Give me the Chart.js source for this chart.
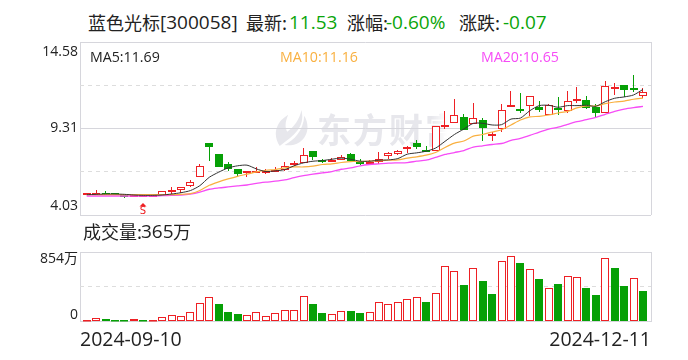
<!DOCTYPE html>
<html>
<head>
<meta charset="utf-8">
<title>蓝色光标</title>
<script src="https://cdn.jsdelivr.net/npm/chart.js@4"></script>
<style>
html, body { margin: 0; padding: 0; background: #fff; }
#page { position: relative; width: 688px; height: 360px; overflow: hidden; font-family: "Open Sans", "Noto Sans CJK SC", sans-serif; color: #222; }
#page span { position: absolute; white-space: nowrap; line-height: 20px; }
canvas { position: absolute; left: 0; }
.cn { font-family: "Noto Sans CJK SC", sans-serif; font-size: 18px; }
.big { font-size: 19px; }
.green { color: #0aa50a; }
.ma { font-size: 14.2px; }
#watermark { left: 317px; top: 104px; width: 130px; height: 50px; line-height: 50px !important; overflow: hidden; font-family: "Noto Sans CJK SC", sans-serif; font-weight: 700; font-size: 34px; letter-spacing: 2px; color: #e7e7ec; -webkit-mask-image: linear-gradient(to right, #000 88%, transparent); }
#logo { position: absolute; left: 275px; top: 110px; }
</style>
</head>
<body>
<div id="page">
    <svg id="logo" width="34" height="36" viewBox="0 0 36 38"><path d="M28 0 C31 12 26 20 20 26 C15 31 10 34 5 38 C1 32 -1 24 3 16 C6 10 10 8 14 5 C11 12 10 18 13 23 C20 18 26 10 28 0 Z M31 6 C37 16 35 28 26 34 C21 37 15 38 10 37 C20 32 30 22 31 6 Z" fill="#e7e7ec"/></svg>
    <span id="watermark">东方财富</span>

    <span class="cn" style="left:88px;top:12px">蓝色光标</span>
    <span class="big" style="left:160px;top:12px">[300058]</span>
    <span class="cn" style="left:246px;top:12px">最新:</span>
    <span class="big green" style="left:289px;top:12px">11.53</span>
    <span class="cn" style="left:347px;top:12px">涨幅:</span>
    <span class="big green" style="left:386px;top:12px">-0.60%</span>
    <span class="cn" style="left:459px;top:12px">涨跌:</span>
    <span class="big green" style="left:503px;top:12px">-0.07</span>

    <canvas id="priceChart" width="688" height="225" style="top:0"></canvas>
    <canvas id="volumeChart" width="688" height="120" style="top:240px"></canvas>

    <span class="ma" style="left:90px;top:47px;color:#222">MA5:11.69</span>
    <span class="ma" style="left:280px;top:47px;color:#f9b040">MA10:11.16</span>
    <span class="ma" style="left:481px;top:47px;color:#f64cf6">MA20:10.65</span>

    <span class="cn" style="left:83px;top:221px">成交量:</span>
    <span class="big" style="left:141px;top:221px">365</span>
    <span class="cn" style="left:173px;top:221px">万</span>
</div>

<script>
const dates = ['2024-09-10', '2024-12-11'];
const priceTicks = [14.58, 9.31, 4.03];
const priceGrid = [14.58, 11.94, 9.31, 6.67, 4.03];
const volumeTicks = [854, 0];
const volumeGrid = [854, 427, 0];

const opens = [5.31, 5.31, 5.35, 5.35, 5.25, 5.23, 5.23, 5.23, 5.25, 5.50, 5.58, 5.82, 6.37, 8.41, 7.76, 7.15, 6.82, 6.62, 6.66, 6.66,
    6.74, 6.80, 7.11, 7.19, 7.94, 7.39, 7.29, 7.37, 7.76, 7.29, 7.23, 7.27, 7.60, 7.72, 8.03, 8.43, 8.00, 7.94, 9.47, 9.64,
    10.01, 9.56, 9.82, 8.84, 9.27, 10.62, 10.52, 10.68, 10.64, 10.13, 10.54, 10.37, 10.96, 11.05, 10.64, 10.25, 11.76, 11.98, 11.80, 11.27];
const closes = [5.35, 5.35, 5.31, 5.31, 5.21, 5.27, 5.27, 5.27, 5.47, 5.54, 5.72, 6.03, 7.01, 8.15, 6.98, 6.86, 6.56, 6.70, 6.70, 6.70,
    6.78, 7.01, 7.21, 7.68, 7.58, 7.27, 7.39, 7.56, 7.35, 7.21, 7.29, 7.43, 7.80, 7.92, 8.15, 8.15, 7.92, 9.43, 9.52, 10.13,
    9.23, 9.94, 9.31, 8.96, 10.43, 10.74, 10.39, 11.29, 10.41, 10.74, 10.49, 10.98, 11.11, 10.54, 10.23, 11.90, 11.84, 11.64, 11.64, 11.53];
const highs = [5.39, 5.54, 5.47, 5.39, 5.29, 5.29, 5.29, 5.29, 5.47, 5.74, 5.72, 6.17, 7.13, 8.41, 7.76, 7.27, 6.82, 6.70, 6.96, 6.82,
    6.96, 7.27, 7.31, 8.13, 7.94, 7.47, 7.50, 7.70, 7.80, 7.45, 7.39, 7.88, 7.88, 7.98, 8.21, 8.62, 8.25, 9.43, 10.39, 11.11,
    10.21, 10.88, 9.94, 9.07, 10.82, 11.62, 11.50, 11.29, 11.01, 10.82, 11.25, 11.62, 11.86, 11.31, 10.82, 12.23, 12.11, 11.98, 12.54, 11.76];
const lows = [5.23, 5.27, 5.27, 5.29, 5.07, 5.21, 5.21, 5.23, 5.25, 5.31, 5.39, 5.76, 6.37, 7.35, 6.98, 6.72, 6.41, 6.37, 6.58, 6.54,
    6.66, 6.72, 7.03, 7.19, 7.39, 7.19, 7.25, 7.37, 7.29, 7.09, 7.07, 7.15, 7.43, 7.68, 7.84, 8.07, 7.88, 7.94, 9.29, 9.64,
    9.19, 9.56, 8.52, 8.52, 9.07, 10.62, 10.23, 10.09, 10.29, 10.13, 10.13, 10.23, 10.84, 10.47, 10.03, 10.25, 11.37, 11.23, 11.56, 11.19];

const ma5 = [5.27, 5.29, 5.31, 5.31, 5.29, 5.25, 5.23, 5.23, 5.25, 5.31, 5.39, 5.52, 5.82, 6.33, 6.64, 6.90, 7.03, 7.07, 6.84, 6.68,
    6.72, 6.80, 7.03, 7.21, 7.31, 7.35, 7.43, 7.50, 7.43, 7.31, 7.31, 7.37, 7.39, 7.47, 7.74, 7.82, 7.92, 8.11, 8.52, 8.94,
    9.27, 9.62, 9.62, 9.52, 9.54, 9.88, 9.94, 10.39, 10.70, 10.72, 10.60, 10.70, 10.70, 10.72, 10.66, 10.94, 11.15, 11.23, 11.35, 11.69];
const ma10 = [5.27, 5.27, 5.27, 5.27, 5.27, 5.27, 5.27, 5.27, 5.27, 5.27, 5.29, 5.33, 5.52, 5.84, 6.05, 6.23, 6.39, 6.52, 6.66, 6.76,
    6.80, 6.90, 6.96, 6.96, 7.01, 7.11, 7.15, 7.23, 7.29, 7.29, 7.31, 7.35, 7.37, 7.39, 7.50, 7.58, 7.68, 7.84, 8.15, 8.41,
    8.54, 8.84, 8.94, 9.09, 9.23, 9.52, 9.82, 10.01, 10.05, 10.13, 10.25, 10.35, 10.56, 10.68, 10.68, 10.82, 10.92, 10.98, 11.09, 11.16];
const ma20 = [5.19, 5.19, 5.19, 5.19, 5.19, 5.19, 5.19, 5.19, 5.21, 5.23, 5.25, 5.31, 5.43, 5.60, 5.68, 5.74, 5.80, 5.86, 5.96, 6.03,
    6.09, 6.17, 6.31, 6.43, 6.52, 6.60, 6.68, 6.82, 6.90, 7.03, 7.11, 7.15, 7.19, 7.21, 7.23, 7.31, 7.37, 7.54, 7.72, 7.84,
    7.96, 8.17, 8.25, 8.33, 8.39, 8.58, 8.70, 8.88, 9.09, 9.27, 9.39, 9.56, 9.72, 9.84, 9.98, 10.17, 10.35, 10.49, 10.58, 10.65];

// 万
const volumes = [20, 44, 36, 24, 24, 32, 24, 20, 56, 80, 68, 116, 224, 296, 216, 120, 96, 80, 116, 68,
    104, 140, 140, 308, 216, 108, 92, 128, 132, 108, 116, 236, 212, 236, 272, 296, 240, 356, 680, 620,
    444, 656, 504, 336, 740, 800, 720, 644, 528, 416, 456, 560, 548, 408, 324, 776, 660, 432, 536, 372];
// volume colour follows the day's change, not the candle: r = up, g = down
const volumeSides = ['r', 'r', 'g', 'g', 'g', 'r', 'g', 'r', 'r', 'r', 'r', 'r', 'r', 'r', 'g', 'g', 'g', 'r', 'r', 'r',
    'r', 'r', 'r', 'r', 'g', 'g', 'r', 'r', 'g', 'g', 'r', 'r', 'r', 'r', 'r', 'r', 'g', 'r', 'r', 'r',
    'g', 'r', 'g', 'g', 'r', 'r', 'g', 'r', 'g', 'r', 'g', 'r', 'r', 'g', 'g', 'r', 'g', 'g', 'r', 'g'];

const signalIndex = 6;
const signalLabel = 'S';

const RED = '#ee2024';
const GREEN = '#06a006';
const LINE_GREY = '#d6d6dc';
const DASH_GREY = '#dddddd';
const FONT_FAMILY = '"Open Sans", "Noto Sans CJK SC", sans-serif';
const X_MIN = -0.71;
const X_MAX = 59.85;

const isUp = opens.map((o, i) => closes[i] >= o);
const volUp = volumeSides.map(s => s === 'r');

function xAxis(extra) {
    return Object.assign({
        type: 'linear',
        offset: false,
        min: X_MIN,
        max: X_MAX,
        afterBuildTicks: scale => { scale.ticks = [{ value: X_MIN }, { value: X_MAX }]; },
        grid: { color: LINE_GREY, drawTicks: false, offset: false },
        border: { display: false },
        ticks: { display: false }
    }, extra);
}

function yAxis(min, max, gridValues) {
    return {
        min: min,
        max: max,
        afterBuildTicks: scale => { scale.ticks = gridValues.map(v => ({ value: v })); },
        grid: {
            drawTicks: false,
            color: ctx => ctx.index % 2 === 0 ? LINE_GREY : DASH_GREY
        },
        border: {
            display: false,
            dash: ctx => ctx.index % 2 === 0 ? [] : [4, 4]
        },
        ticks: { display: false }
    };
}

// first and last y label sit inside the panel, not on the grid line
function edgeLabels(values, formatter, topShift, bottomShift) {
    return {
        id: 'edgeLabels',
        afterDraw(chart) {
            const ctx = chart.ctx;
            const scale = chart.scales.y;
            ctx.save();
            ctx.font = '14px ' + FONT_FAMILY;
            ctx.fillStyle = '#222';
            ctx.textAlign = 'right';
            ctx.textBaseline = 'middle';
            values.forEach((v, i) => {
                let y = scale.getPixelForValue(v);
                if (i === 0) y += topShift;
                if (i === values.length - 1) y -= bottomShift;
                ctx.fillText(formatter(v), 78, y);
            });
            ctx.restore();
        }
    };
}

// keep the bars on whole pixels, otherwise the 1px borders go pale
const snapBars = {
    id: 'snapBars',
    beforeDatasetsDraw(chart) {
        chart.data.datasets.forEach((ds, d) => {
            if (ds.type !== 'bar') return;
            chart.getDatasetMeta(d).data.forEach(bar => {
                bar.x = ds.barThickness % 2 ? Math.floor(bar.x) + 0.5 : Math.round(bar.x);
                bar.y = Math.round(bar.y);
                bar.base = Math.round(bar.base);
                if (Math.abs(bar.base - bar.y) < 2) bar.base = bar.y + 2;
            });
        });
    }
};

const signalMark = {
    id: 'signalMark',
    afterDraw(chart) {
        const ctx = chart.ctx;
        const x = Math.round(chart.scales.x.getPixelForValue(signalIndex));
        ctx.save();
        ctx.fillStyle = RED;
        ctx.beginPath();
        ctx.moveTo(x, 203);
        ctx.lineTo(x + 3.5, 206.5);
        ctx.lineTo(x - 3.5, 206.5);
        ctx.closePath();
        ctx.fill();
        ctx.font = '10px "DejaVu Sans", sans-serif';
        ctx.textAlign = 'center';
        ctx.textBaseline = 'middle';
        ctx.fillText(signalLabel, x, 211.5);
        ctx.restore();
    }
};

function maLine(values, color, width, order) {
    return {
        type: 'line',
        data: values.map((v, i) => ({ x: i, y: v })),
        borderColor: color,
        borderWidth: width,
        pointRadius: 0,
        tension: 0.25,
        order: order
    };
}

new Chart(document.getElementById('priceChart').getContext('2d'), {
    data: {
        datasets: [
            maLine(ma5, '#333333', 1, 0),
            maLine(ma10, '#f9b040', 1.2, 1),
            maLine(ma20, '#f64cf6', 1.3, 2),
            {
                type: 'bar',
                data: opens.map((o, i) => ({ x: i, y: [o, closes[i]] })),
                backgroundColor: isUp.map(up => up ? '#ffffff' : GREEN),
                borderColor: isUp.map(up => up ? RED : GREEN),
                borderWidth: isUp.map(up => up ? 1 : 0),
                borderSkipped: false,
                inflateAmount: 0,
                barThickness: 8,
                grouped: false,
                order: 3
            },
            {
                type: 'bar',
                data: lows.map((l, i) => ({ x: i, y: [l, highs[i]] })),
                backgroundColor: isUp.map(up => up ? RED : GREEN),
                inflateAmount: 0,
                barThickness: 1,
                grouped: false,
                order: 4
            }
        ]
    },
    options: {
        responsive: false,
        animation: false,
        layout: { padding: { left: 80, right: 37, top: 42, bottom: 10 } },
        plugins: { legend: { display: false }, tooltip: { enabled: false } },
        scales: {
            x: xAxis(),
            y: yAxis(priceTicks[2], priceTicks[0], priceGrid)
        }
    },
    plugins: [snapBars, edgeLabels(priceTicks, v => v.toFixed(2), 10.5, 9), signalMark]
});

new Chart(document.getElementById('volumeChart').getContext('2d'), {
    data: {
        datasets: [{
            type: 'bar',
            data: volumes.map((v, i) => ({ x: i, y: v })),
            backgroundColor: volUp.map(up => up ? '#ffffff' : GREEN),
            borderColor: volUp.map(up => up ? RED : GREEN),
            borderWidth: volUp.map(up => up ? 1 : 0),
            borderSkipped: false,
            inflateAmount: 0,
            barThickness: 8
        }]
    },
    options: {
        responsive: false,
        animation: false,
        layout: { padding: { left: 80, right: 37, top: 12, bottom: 1 } },
        plugins: { legend: { display: false }, tooltip: { enabled: false } },
        scales: {
            x: xAxis({
                ticks: {
                    display: true,
                    align: 'inner',
                    autoSkip: false,
                    maxRotation: 0,
                    padding: 7,
                    color: '#222',
                    font: { family: FONT_FAMILY, size: 19.5 },
                    callback: (value, index) => dates[index]
                }
            }),
            y: yAxis(volumeTicks[1], volumeTicks[0], volumeGrid)
        }
    },
    plugins: [snapBars, edgeLabels(volumeTicks, v => v === 0 ? '0' : v + '万', 7, 7)]
});
</script>
</body>
</html>
